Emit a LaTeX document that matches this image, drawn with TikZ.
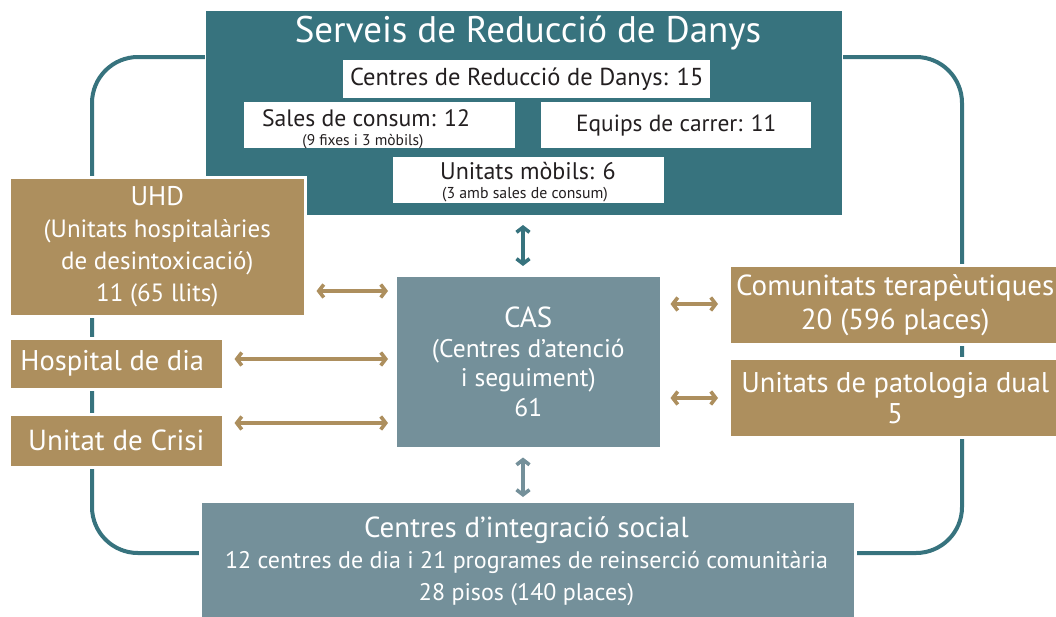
\documentclass[tikz,border=0pt]{standalone}
\usepackage{fontspec}
\setmainfont{PT Sans}
\usetikzlibrary{arrows.meta}
\definecolor{teal}{HTML}{37737E}
\definecolor{tan}{HTML}{AD8F5E}
\definecolor{slate}{HTML}{74909A}
\definecolor{ink}{HTML}{231F20}
\newcommand{\fs}[2]{\fontsize{#1}{#2}\selectfont}
\tikzset{
  box/.style={anchor=north west, inner sep=0pt, draw=white, line width=2.5pt, align=center, text=white},
  wbox/.style={anchor=north west, inner sep=0pt, fill=white, draw=none},
  txt/.style={inner sep=0pt, align=center},
  maintxt/.style={inner sep=0pt, anchor=base, text=ink, text depth=0pt},
  subtxt/.style={inner sep=0pt, anchor=base, text=ink, text height=9pt, text depth=2pt},
  arr/.style={line width=3.6pt, {Straight Barb[length=5pt,width=13pt]}-{Straight Barb[length=5pt,width=13pt]}},
}
\begin{document}
\begin{tikzpicture}[x=1pt,y=-1pt]
\useasboundingbox (0,0) rectangle (1056,616);
% background loop
\draw[teal, line width=4pt, rounded corners=46pt] (92,57) rectangle (962,553);
% top box
\node[box, fill=teal, line width=1pt, minimum width=637pt, minimum height=205pt] (srd) at (205,10) {};
\node[txt, text=white, font=\fs{37}{40}] (title) at (528,33) {Serveis de Reducció de Danys};
\node[wbox, minimum width=367pt, minimum height=38pt] (crd) at (343,60) {};
\node[txt, text=ink, font=\fs{24.5}{26}] at (crd.center) {Centres de Reducció de Danys: 15};
\node[wbox, minimum width=271pt, minimum height=46pt] (sales) at (244,102) {};
\node[maintxt, font=\fs{23.7}{26}] at (366,126.5) {Sales de consum: 12};
\node[subtxt, font=\fs{15.5}{17}] at (363,145) {(9 fixes i 3 mòbils)};
\node[wbox, minimum width=270pt, minimum height=46pt] (equips) at (541,102) {};
\node[txt, text=ink, font=\fs{23.4}{26}] at (equips.center) {Equips de carrer: 11};
\node[wbox, minimum width=271pt, minimum height=46pt] (mob) at (393,157) {};
\node[maintxt, font=\fs{24}{26}] at (528,179.5) {Unitats mòbils: 6};
\node[subtxt, font=\fs{15.8}{18}] at (525,198.5) {(3 amb sales de consum)};
% left boxes
\node[box, fill=tan, minimum width=296pt, minimum height=139pt, font=\fs{25}{32}] (uhd) at (8,176)
  {{\fs{27}{32}UHD}\\(Unitats hospitalàries\\de desintoxicació)\\11 (65 llits)};
\node[box, fill=tan, minimum width=214pt, minimum height=51pt, font=\fs{28.5}{30}] (hosp) at (8,337) {\hspace*{-8pt}Hospital de dia};
\node[box, fill=tan, minimum width=214pt, minimum height=53pt, font=\fs{29}{30}] (crisi) at (8,413) {Unitat de Crisi};
% CAS
\node[box, fill=slate, minimum width=266pt, minimum height=173pt, font=\fs{25.5}{29.5}] (cas) at (394,274)
  {{\fs{29}{29.5}CAS}\\(Centres d’atenció\\i seguiment)\\61};
% right boxes
\node[box, fill=tan, minimum width=332pt, minimum height=79pt, font=\fs{29}{34}] (ct) at (728,264)
  {Comunitats terapèutiques\\20 (596 places)};
\node[box, fill=tan, minimum width=332pt, minimum height=79pt, font=\fs{28.5}{31}] (pd) at (728,357)
  {Unitats de patologia dual\\5};
% bottom
\node[box, fill=slate, minimum width=655pt, minimum height=120pt] (cis) at (199,500) {};
\node[txt, text=white, font=\fs{24}{31.5}] at (526.5,561)
  {{\fs{29}{31.5}Centres d’integració social}\\12 centres de dia i 21 programes de reinserció comunitària\\28 pisos (140 places)};
% arrows
\coordinate (ya) at (0,291);
\coordinate (yb) at (0,359);
\coordinate (yc) at (0,423);
\coordinate (yd) at (0,304);
\coordinate (ye) at (0,398);
\coordinate (xv) at (523,0);
\draw[arr, teal, shorten <=9pt, shorten >=8pt] (srd.south -| xv) -- (cas.north -| xv);
\draw[arr, slate, shorten <=8pt, shorten >=3pt] (cas.south -| xv) -- (cis.north -| xv);
\draw[arr, tan, shorten <=10pt, shorten >=6pt] (uhd.east |- ya) -- (cas.west |- ya);
\draw[arr, tan, shorten <=10pt, shorten >=6pt] (hosp.east |- yb) -- (cas.west |- yb);
\draw[arr, tan, shorten <=10pt, shorten >=6pt] (crisi.east |- yc) -- (cas.west |- yc);
\draw[arr, tan, shorten <=8pt, shorten >=10pt] (cas.east |- yd) -- (ct.west |- yd);
\draw[arr, tan, shorten <=8pt, shorten >=10pt] (cas.east |- ye) -- (pd.west |- ye);
\end{tikzpicture}
\end{document}
